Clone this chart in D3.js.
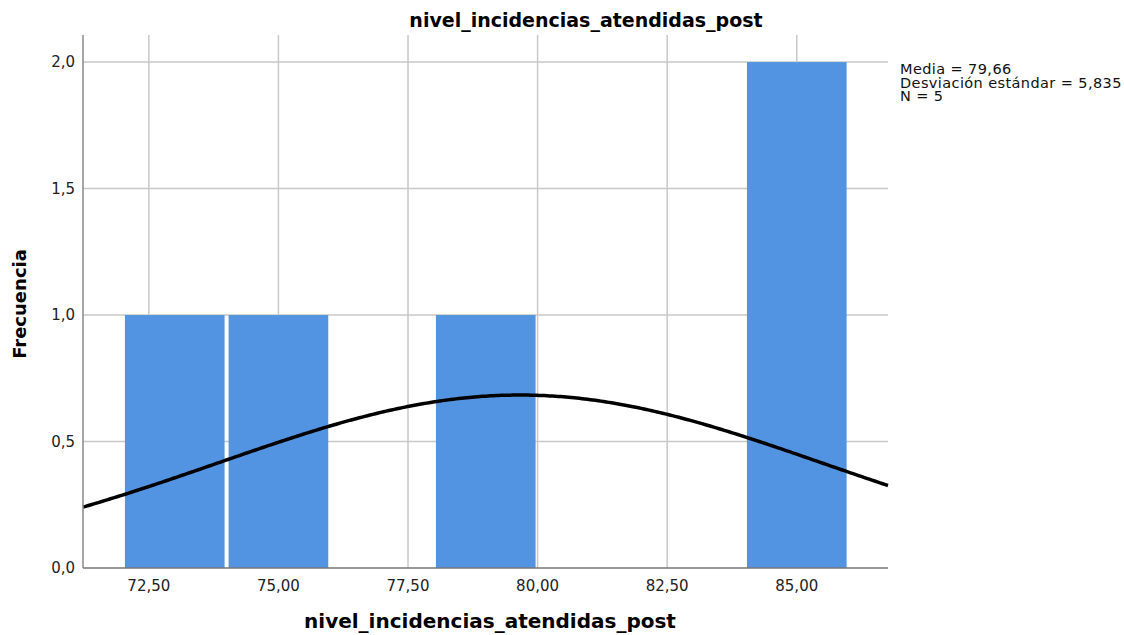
<!DOCTYPE html>
<html>
<head>
<meta charset="utf-8">
<script src="https://cdn.jsdelivr.net/npm/d3@7"></script>
<style>
  body { margin: 0; background: #fff; }
  svg { display: block; }
  text { font-family: "DejaVu Sans", sans-serif; }
</style>
</head>
<body>
<div id="chart"></div>
<script>
// Histogram bins (lower edge) and counts
const binStarts = [72, 74, 76, 78, 80, 82, 84];
const binWidth = 2;
const counts = [1, 1, 0, 1, 0, 0, 2];
const xTicks = [72.5, 75, 77.5, 80, 82.5, 85];
const yTicks = [0, 0.5, 1, 1.5, 2];
const stats = { mean: 79.66, sd: 5.835, n: 5 };
const statLines = ['Media = 79,66', 'Desviación estándar = 5,835', 'N = 5'];

const W = 1124, H = 635;
const plot = { left: 83, right: 888, top: 35, bottom: 568 };
const fmt = (v, d) => v.toFixed(d).replace('.', ',');

const svg = d3.select('#chart').append('svg').attr('width', W).attr('height', H);

const x = d3.scaleLinear().domain([71.23, 86.76]).range([plot.left, plot.right]);
const y = d3.scaleLinear().domain([0, 2.107]).range([plot.bottom, plot.top]);

// Grid
svg.append('g').selectAll('line').data(xTicks).join('line')
  .attr('x1', d => x(d)).attr('x2', d => x(d))
  .attr('y1', plot.top).attr('y2', plot.bottom)
  .attr('stroke', '#c8c8c8').attr('stroke-width', 1.5);
svg.append('g').selectAll('line').data(yTicks.slice(1)).join('line')
  .attr('x1', plot.left).attr('x2', plot.right)
  .attr('y1', d => y(d)).attr('y2', d => y(d))
  .attr('stroke', '#c8c8c8').attr('stroke-width', 1.5);

// Bars
const bars = binStarts.map((b, i) => ({ b, c: counts[i] })).filter(d => d.c > 0);
svg.append('g').selectAll('rect').data(bars).join('rect')
  .attr('x', d => x(d.b) + 2)
  .attr('width', d => x(d.b + binWidth) - x(d.b) - 4)
  .attr('y', d => y(d.c))
  .attr('height', d => y(0) - y(d.c))
  .attr('fill', '#5294e2');

// Normal curve
const pts = d3.range(0, 301).map(i => {
  const v = x.domain()[0] + (x.domain()[1] - x.domain()[0]) * i / 300;
  const z = (v - stats.mean) / stats.sd;
  return [v, stats.n * binWidth * Math.exp(-0.5 * z * z) / (stats.sd * Math.sqrt(2 * Math.PI))];
});
svg.append('path')
  .attr('d', d3.line().x(d => x(d[0])).y(d => y(d[1]))(pts))
  .attr('fill', 'none').attr('stroke', '#000').attr('stroke-width', 3.5);

// Axes lines
svg.append('line').attr('x1', plot.left).attr('x2', plot.left)
  .attr('y1', plot.top).attr('y2', plot.bottom).attr('stroke', '#888').attr('stroke-width', 1.5);
svg.append('line').attr('x1', plot.left).attr('x2', plot.right)
  .attr('y1', plot.bottom).attr('y2', plot.bottom).attr('stroke', '#777').attr('stroke-width', 1.5);

// Tick labels
svg.append('g').selectAll('text').data(xTicks).join('text')
  .attr('x', d => x(d)).attr('y', 591)
  .attr('text-anchor', 'middle').attr('font-size', 15).attr('fill', '#222')
  .text(d => fmt(d, 2));
svg.append('g').selectAll('text').data(yTicks).join('text')
  .attr('x', 75).attr('y', d => y(d)).attr('dy', '0.35em')
  .attr('text-anchor', 'end').attr('font-size', 15).attr('fill', '#222')
  .text(d => fmt(d, 1));

// Titles
svg.append('text').attr('x', 586).attr('y', 27)
  .attr('text-anchor', 'middle').attr('font-size', 19).attr('font-weight', 'bold')
  .text('nivel_incidencias_atendidas_post');
svg.append('text').attr('x', 490).attr('y', 628)
  .attr('text-anchor', 'middle').attr('font-size', 20).attr('font-weight', 'bold')
  .text('nivel_incidencias_atendidas_post');
svg.append('text')
  .attr('transform', 'translate(26,304) rotate(-90)')
  .attr('text-anchor', 'middle').attr('font-size', 18).attr('font-weight', 'bold')
  .text('Frecuencia');

// Stats legend
svg.append('g').selectAll('text').data(statLines).join('text')
  .attr('x', 900).attr('y', (d, i) => 74 + i * 13.5)
  .attr('font-size', 14.5).attr('letter-spacing', 0.4).attr('fill', '#111')
  .text(d => d);
</script>
</body>
</html>
